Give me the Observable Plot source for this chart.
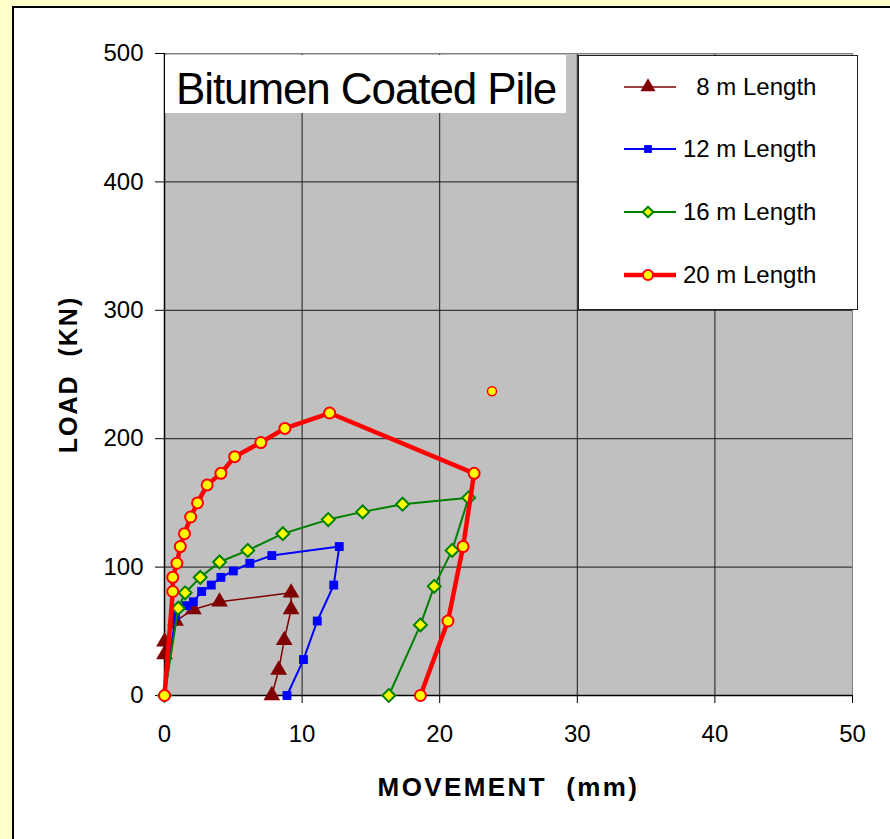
<!DOCTYPE html>
<html><head><meta charset="utf-8">
<script src="https://cdn.jsdelivr.net/npm/d3@7"></script>
<script src="https://cdn.jsdelivr.net/npm/@observablehq/plot@0.6"></script>
<style>
html,body{margin:0;padding:0;}
body{width:890px;height:839px;background:#FFFFCC;position:relative;overflow:hidden;font-family:"Liberation Sans",Arial,sans-serif;}
#panel{position:absolute;left:12px;top:6px;width:900px;height:900px;background:#fff;border-left:2px solid #000;border-top:2px solid #000;}
#chart{position:absolute;left:0;top:0;}
#overlay{position:absolute;left:0;top:0;}
</style></head><body>
<div id="panel"></div><div id="chart"></div><svg id="overlay" width="890" height="839"></svg>
<script>
const title = "Bitumen Coated Pile";
const xLabel = "MOVEMENT  (mm)";
const yLabel = "LOAD  (KN)";
const xTicks = [0, 10, 20, 30, 40, 50];
const yTicks = [0, 100, 200, 300, 400, 500];
const seriesNames = ["8 m Length", "12 m Length", "16 m Length", "20 m Length"];

const move8  = [0, 0, 0.8, 2.1, 4.0, 9.2, 9.2, 8.7, 8.3, 7.8];
const load8  = [32, 42, 58, 67, 73, 80, 67, 43, 20, 0];

const move12 = [0, 0.8, 1.6, 2.1, 2.7, 3.4, 4.1, 5.0, 6.2, 7.8, 12.7, 12.3, 11.1, 10.1, 8.9];
const load12 = [0, 62, 70, 73, 81, 86, 92, 97, 103, 109, 116, 86, 58, 28, 0];

const move16 = [0, 1.0, 1.5, 2.6, 4.0, 6.05, 8.6, 11.9, 14.4, 17.3, 22.1, 20.9, 19.6, 18.6, 16.3];
const load16 = [0, 68, 80, 92, 104, 113, 126, 137, 143, 149, 154, 113, 85, 55, 0];

const move20 = [0, 0.6, 0.6, 0.9, 1.15, 1.45, 1.9, 2.4, 3.1, 4.1, 5.1, 7.0, 8.75, 12.0, 22.5, 21.7, 20.6, 18.6];
const load20 = [0, 81, 92, 103, 116, 126, 139, 150, 164, 173, 186, 197, 208, 220, 173, 116, 58, 0];

const strayMove = [23.8];
const strayLoad = [237];

const styles = [
  {stroke: "#800000", width: 1.5, symbol: "triangle", fill: "#800000", mstroke: "none", r: 6.2, lr: 5.6, sw: 0},
  {stroke: "#0000FF", width: 2, symbol: "square", fill: "#0000FF", mstroke: "none", r: 5, lr: 4.4, sw: 0},
  {stroke: "#008000", width: 2, symbol: "diamond2", fill: "#FFFF00", mstroke: "#008000", r: 5.8, lr: 4.8, sw: 2},
  {stroke: "#FF0000", width: 4.5, symbol: "circle", fill: "#FFFF00", mstroke: "#FF0000", r: 5.5, lr: 5, sw: 2}
];
const moves = [move8, move12, move16, move20];
const loads = [load8, load12, load16, load20];
const rows = seriesNames.map((name, i) => moves[i].map((m, j) => ({series: name, move: m, load: loads[i][j]})));
const stray = strayMove.map((m, j) => ({move: m, load: strayLoad[j]}));

const seriesMarks = rows.flatMap((data, i) => {
  const s = styles[i];
  return [
    Plot.line(data, {x: "move", y: "load", stroke: s.stroke, strokeWidth: s.width, curve: "linear"}),
    Plot.dot(data, {x: "move", y: "load", symbol: () => s.symbol, r: s.r, fill: s.fill, stroke: s.mstroke, strokeWidth: s.sw})
  ];
});

const chart = Plot.plot({
  width: 890, height: 839,
  marginLeft: 164, marginRight: 38, marginTop: 53, marginBottom: 144,
  style: {background: "transparent", fontFamily: "'Liberation Sans', Arial, sans-serif", color: "#000", overflow: "visible"},
  x: {domain: [0, 50], label: null},
  y: {domain: [0, 500], label: null},
  symbol: {type: "identity"},
  marks: [
    Plot.frame({fill: "#C0C0C0"}),
    Plot.gridX(xTicks, {stroke: "#1a1a1a", strokeOpacity: 1, strokeWidth: 1}),
    Plot.gridY(yTicks, {stroke: "#1a1a1a", strokeOpacity: 1, strokeWidth: 1}),
    Plot.frame({stroke: "#808080"}),
    Plot.ruleX([0], {stroke: "#000", strokeWidth: 1.5}),
    Plot.ruleY([0], {stroke: "#000", strokeWidth: 1.5}),
    Plot.axisX(xTicks, {tickSize: 8, tickPadding: 21, fontSize: 24, fill: "#000", stroke: "#000", label: null}),
    Plot.axisY(yTicks, {tickSize: 9, tickPadding: 12, fontSize: 24, fill: "#000", stroke: "#000", label: null}),
    ...seriesMarks,
    Plot.dot(stray, {x: "move", y: "load", r: 4.5, fill: "#FFFF00", stroke: "#FF0000", strokeWidth: 1.5}),
    Plot.text([yLabel], {frameAnchor: "left", dx: -96, rotate: -90, textAnchor: "middle", lineAnchor: "middle", fontSize: 25, fontWeight: "bold", fill: "#000"}),
    Plot.text([xLabel], {frameAnchor: "bottom", dy: 92, textAnchor: "middle", lineAnchor: "middle", fontSize: 26, fontWeight: "bold", fill: "#000"})
  ]
});
document.getElementById("chart").appendChild(chart);
d3.select(chart).selectAll("text").filter(function(){ return this.textContent === yLabel; })
  .attr("letter-spacing", 2).style("white-space", "pre");
d3.select(chart).selectAll("text").filter(function(){ return this.textContent === xLabel; })
  .attr("letter-spacing", 2.4).style("white-space", "pre");

// overlay: title box and legend
const ov = d3.select("#overlay");
ov.append("rect").attr("x", 165).attr("y", 55).attr("width", 401).attr("height", 58).attr("fill", "#fff");
ov.append("text").attr("x", 176).attr("y", 104).attr("font-size", 44).attr("letter-spacing", -1.1)
  .attr("font-family", "'Liberation Sans', Arial, sans-serif").attr("fill", "#000").text(title);

ov.append("rect").attr("x", 578.5).attr("y", 55.5).attr("width", 279).attr("height", 254)
  .attr("fill", "#fff").attr("stroke", "#222").attr("stroke-width", 1);
const legY = [87, 149, 212, 275];
const legLabels = ["  8 m Length", "12 m Length", "16 m Length", "20 m Length"];
const symMap = {triangle: d3.symbolTriangle, square: d3.symbolSquare, diamond2: d3.symbolDiamond2, circle: d3.symbolCircle};
seriesNames.forEach((name, i) => {
  const s = styles[i];
  const g = ov.append("g").attr("transform", `translate(0,${legY[i]})`);
  g.append("line").attr("x1", 624).attr("x2", 676).attr("y1", 0).attr("y2", 0)
    .attr("stroke", s.stroke).attr("stroke-width", s.width);
  g.append("path").attr("transform", "translate(648,0)")
    .attr("d", d3.symbol(symMap[s.symbol], Math.PI * s.lr * s.lr)())
    .attr("fill", s.fill).attr("stroke", s.mstroke).attr("stroke-width", s.sw);
  g.append("text").attr("x", 683).attr("dy", "0.35em").attr("font-size", 24)
    .attr("font-family", "'Liberation Sans', Arial, sans-serif").style("white-space", "pre")
    .attr("fill", "#000").text(legLabels[i]);
});
</script>
</body></html>
